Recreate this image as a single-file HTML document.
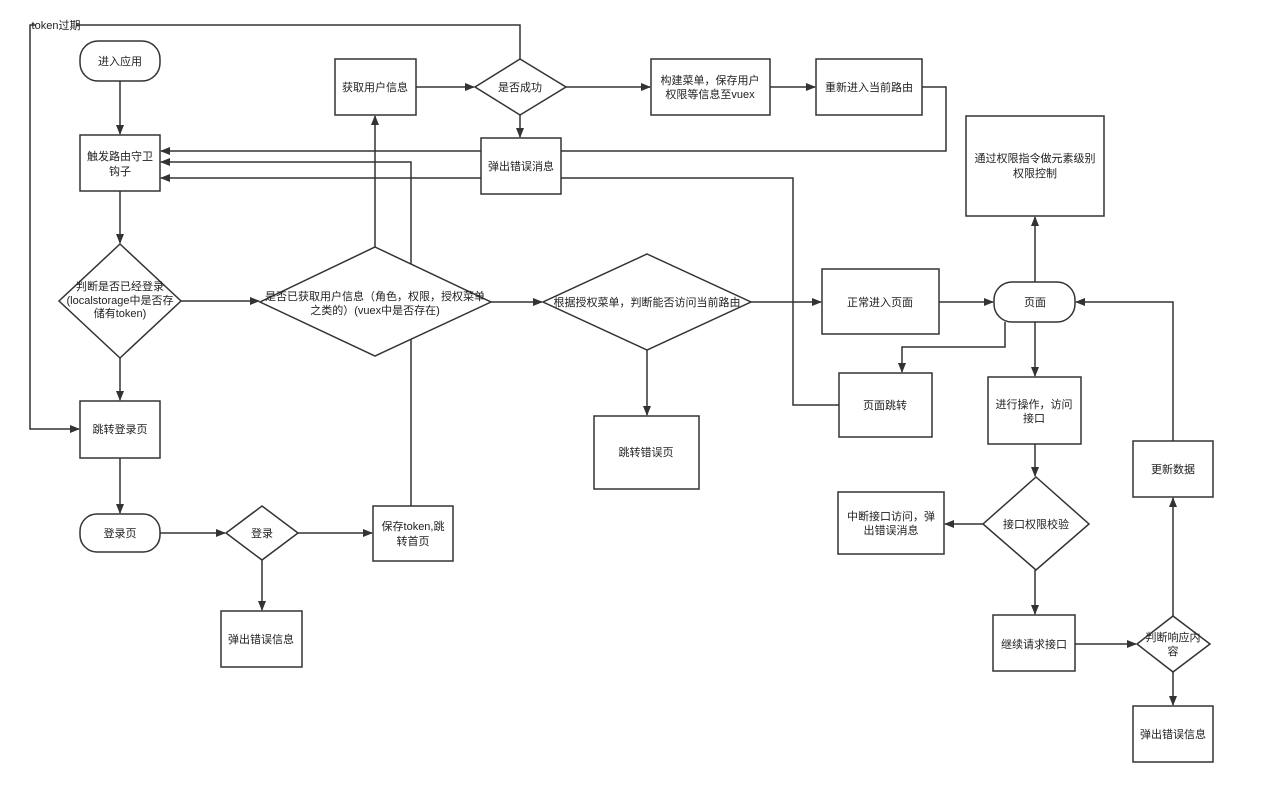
<!DOCTYPE html>
<html><head><meta charset="utf-8"><style>
html,body{margin:0;padding:0;background:#fff;}
svg{display:block;}
text{font-family:"Liberation Sans","Noto Sans CJK SC",sans-serif;font-size:11px;fill:#222;text-anchor:middle;}
.s{fill:#fff;stroke:#333;stroke-width:1.5;}
.l{fill:none;stroke:#333;stroke-width:1.5;}
</style></head><body>
<svg width="1274" height="795" viewBox="0 0 1274 795" xmlns="http://www.w3.org/2000/svg">
<defs><marker id="a" markerWidth="10" markerHeight="8" refX="9" refY="4" orient="auto" markerUnits="userSpaceOnUse"><path d="M0,0 L10,4 L0,8 z" fill="#333"/></marker></defs>
<!-- connectors -->
<g class="l" marker-end="url(#a)">
<path d="M520,59 V25 H30 V429 H79"/>
<path d="M120,81 V134"/>
<path d="M120,191 V243"/>
<path d="M120,358 V400"/>
<path d="M181,301 H259"/>
<path d="M120,458 V513"/>
<path d="M160,533 H225"/>
<path d="M298,533 H372"/>
<path d="M262,560 V610"/>
<path d="M411,506 V162 H161"/>
<path d="M375,247 V116"/>
<path d="M416,87 H474"/>
<path d="M566,87 H650"/>
<path d="M520,115 V137"/>
<path d="M770,87 H815"/>
<path d="M922,87 H946 V151 H161"/>
<path d="M839,405 H793 V178 H161"/>
<path d="M491,302 H542"/>
<path d="M751,302 H821"/>
<path d="M647,350 V415"/>
<path d="M939,302 H993"/>
<path d="M1035,282 V217"/>
<path d="M1005,322 V347 H902 V372"/>
<path d="M1035,322 V376"/>
<path d="M1035,444 V476"/>
<path d="M983,524 H945"/>
<path d="M1035,570 V614"/>
<path d="M1075,644 H1136"/>
<path d="M1173,616 V498"/>
<path d="M1173,441 V302 H1076"/>
<path d="M1173,672 V705"/>
</g>
<rect x="36" y="18" width="40" height="14" fill="#fff"/>
<text x="56" y="29">token过期</text>
<!-- shapes -->
<rect class="s" x="80" y="41" width="80" height="40" rx="18"/><text x="120" y="65">进入应用</text>
<rect class="s" x="80" y="135" width="80" height="56"/><text x="120" y="160">触发路由守卫</text><text x="120" y="175">钩子</text>
<polygon class="s" points="120,244 181,301 120,358 59,301"/><text x="120" y="290">判断是否已经登录</text><text x="120" y="304">(localstorage中是否存</text><text x="120" y="317">储有token)</text>
<rect class="s" x="80" y="401" width="80" height="57"/><text x="120" y="433">跳转登录页</text>
<rect class="s" x="80" y="514" width="80" height="38" rx="17"/><text x="120" y="537">登录页</text>
<polygon class="s" points="262,506 298,533 262,560 226,533"/><text x="262" y="537">登录</text>
<rect class="s" x="221" y="611" width="81" height="56"/><text x="261" y="643">弹出错误信息</text>
<rect class="s" x="373" y="506" width="80" height="55"/><text x="413" y="530">保存token,跳</text><text x="413" y="545">转首页</text>
<polygon class="s" points="375,247 491,302 375,356 260,302"/><text x="375" y="300">是否已获取用户信息（角色，权限，授权菜单</text><text x="375" y="314">之类的）(vuex中是否存在)</text>
<rect class="s" x="335" y="59" width="81" height="56"/><text x="375" y="91">获取用户信息</text>
<polygon class="s" points="520,59 566,87 520,115 475,87"/><text x="520" y="91">是否成功</text>
<rect class="s" x="481" y="138" width="80" height="56"/><text x="521" y="170">弹出错误消息</text>
<rect class="s" x="651" y="59" width="119" height="56"/><text x="710" y="84">构建菜单，保存用户</text><text x="710" y="98">权限等信息至vuex</text>
<rect class="s" x="816" y="59" width="106" height="56"/><text x="869" y="91">重新进入当前路由</text>
<polygon class="s" points="647,254 751,302 647,350 543,302"/><text x="647" y="306">根据授权菜单，判断能否访问当前路由</text>
<rect class="s" x="594" y="416" width="105" height="73"/><text x="646" y="456">跳转错误页</text>
<rect class="s" x="822" y="269" width="117" height="65"/><text x="880" y="306">正常进入页面</text>
<rect class="s" x="994" y="282" width="81" height="40" rx="18"/><text x="1035" y="306">页面</text>
<rect class="s" x="966" y="116" width="138" height="100"/><text x="1035" y="162">通过权限指令做元素级别</text><text x="1035" y="177">权限控制</text>
<rect class="s" x="839" y="373" width="93" height="64"/><text x="885" y="409">页面跳转</text>
<rect class="s" x="988" y="377" width="93" height="67"/><text x="1034" y="408">进行操作，访问</text><text x="1034" y="422">接口</text>
<polygon class="s" points="1036,477 1089,524 1036,570 983,524"/><text x="1036" y="528">接口权限校验</text>
<rect class="s" x="838" y="492" width="106" height="62"/><text x="891" y="520">中断接口访问，弹</text><text x="891" y="534">出错误消息</text>
<rect class="s" x="993" y="615" width="82" height="56"/><text x="1034" y="648">继续请求接口</text>
<polygon class="s" points="1173,616 1210,644 1173,672 1137,644"/><text x="1173" y="641">判断响应内</text><text x="1173" y="655">容</text>
<rect class="s" x="1133" y="441" width="80" height="56"/><text x="1173" y="473">更新数据</text>
<rect class="s" x="1133" y="706" width="80" height="56"/><text x="1173" y="738">弹出错误信息</text>
</svg>
</body></html>
